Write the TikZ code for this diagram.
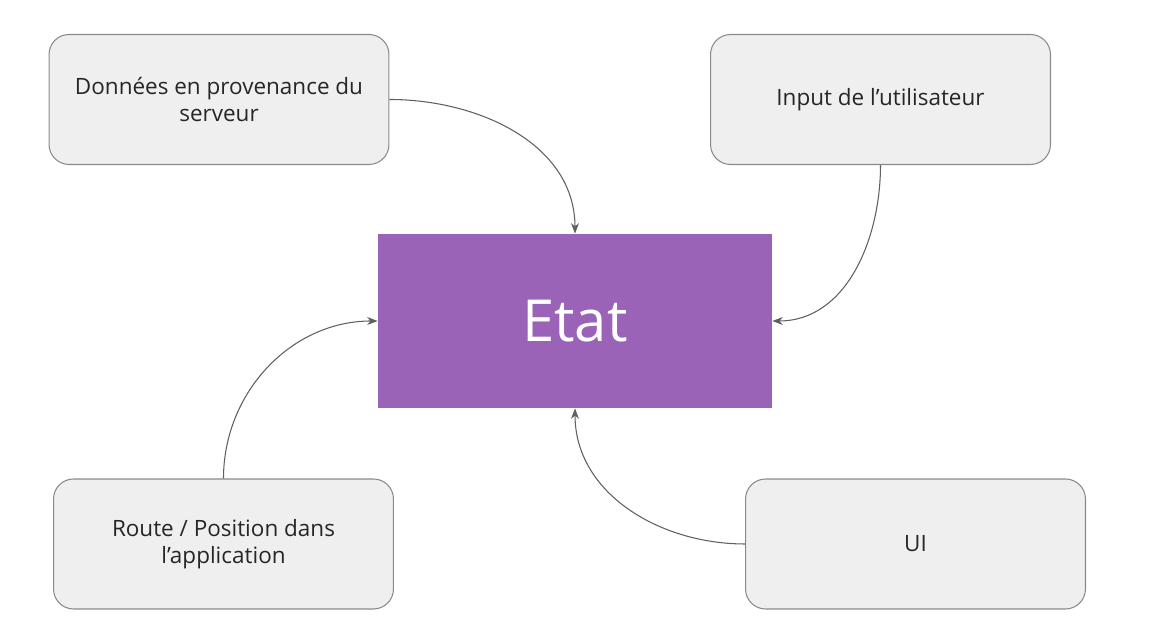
\documentclass[tikz,border=0pt]{standalone}
\usepackage{fontspec}
\setmainfont{Open Sans}
\usetikzlibrary{positioning,calc,arrows.meta}
\definecolor{boxfill}{HTML}{EFEFEF}
\definecolor{boxline}{HTML}{8A8A8A}
\definecolor{etatpurple}{HTML}{9B63B8}
\definecolor{arrowgray}{HTML}{5F5F5F}

\begin{document}
\begin{tikzpicture} [x=0.02cm, y=0.02cm,
          source/.style={draw=boxline, fill=boxfill, rounded corners=0.4cm,
            minimum width=6.8cm, minimum height=2.6cm, align=center,
            font=\fontsize{12.8}{15.2}\selectfont, text=black!85, line width=0.6pt},
          etat/.style={fill=etatpurple, minimum width=7.88cm, minimum height=3.48cm,
            inner sep=0, text=white, font=\fontsize{33}{38}\selectfont},
          flow/.style={draw=arrowgray, line width=0.6pt, -{Stealth[length=6pt, width=4.5pt]}}]
  \useasboundingbox (0,0) rectangle (1150,641);
  \node[etat] (etat) at (575,320) {Etat};
  \node[source] (serveur) at (219,541.5) {Données en provenance du\\serveur};
  \node[source] (input) at (880.5,541.5) {Input de l’utilisateur};
  \node[source] (route) at (223.5,97) {Route / Position dans\\l’application};
  \node[source] (ui) at (915.5,97) {UI};
  % connectors
  \draw[flow] (serveur.east) to[out=0, in=90] (etat.north);
  \draw[flow] (input.south) to[out=-90, in=0] (etat.east);
  \draw[flow] (route.north) to[out=90, in=180] (etat.west);
  \draw[flow] (ui.west) to[out=180, in=-90] (etat.south);
\end{tikzpicture}
\end{document}
